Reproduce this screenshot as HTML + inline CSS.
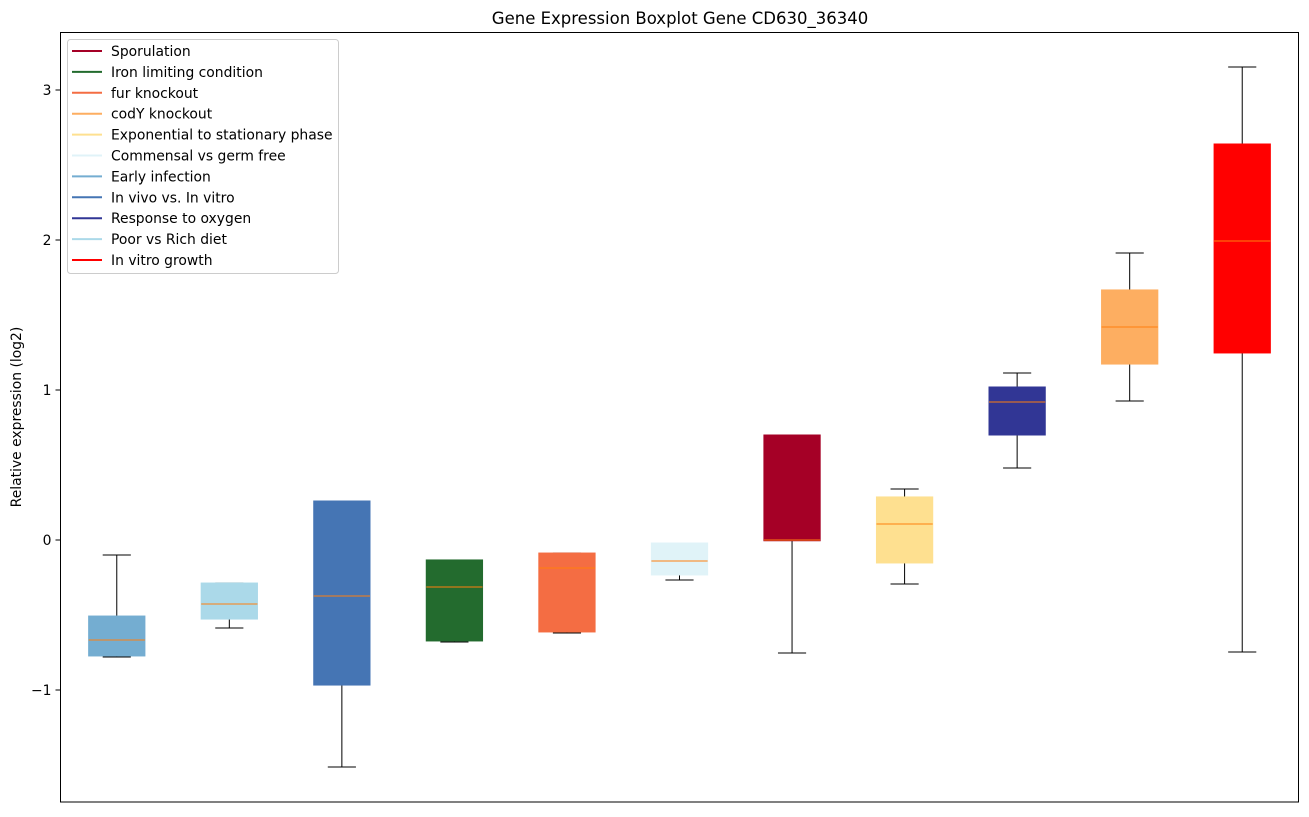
<!DOCTYPE html>
<html><head><meta charset="utf-8"><style>
body{margin:0;background:#fff}
svg text{font-family:"DejaVu Sans","Liberation Sans",sans-serif;fill:#000}
</style></head><body>
<svg id="chart" width="1309" height="812" xmlns="http://www.w3.org/2000/svg">
<text x="680" y="24" font-size="16.5" text-anchor="middle">Gene Expression Boxplot Gene CD630_36340</text>
<text transform="translate(21,417) rotate(-90)" font-size="13.9" text-anchor="middle">Relative expression (log2)</text>
<g id="ticks"></g>
<g id="boxes"></g>
<rect x="60.5" y="32.5" width="1238" height="769.5" fill="none" stroke="#000" stroke-width="1"/>
<g id="legend"></g>
</svg>
<script>
const categories=["Early infection","Poor vs Rich diet","In vivo vs. In vitro","Iron limiting condition","fur knockout","Commensal vs germ free","Sporulation","Exponential to stationary phase","Response to oxygen","codY knockout","In vitro growth"];
const colors=["#74add1","#abd9e9","#4575b4","#236b2e","#f46d43","#e0f3f8","#a50026","#fee090","#313695","#fdae61","#ff0000"];
const whiskerHigh=[-0.1,-0.287,0.26,-0.133,-0.087,-0.02,0.70,0.34,1.113,1.913,3.153];
const q3=[-0.507,-0.287,0.26,-0.133,-0.087,-0.02,0.70,0.287,1.02,1.667,2.64];
const medians=[-0.667,-0.427,-0.373,-0.313,-0.187,-0.14,0.0,0.107,0.92,1.42,1.993];
const q1=[-0.773,-0.527,-0.967,-0.673,-0.613,-0.233,-0.005,-0.153,0.70,1.173,1.247];
const whiskerLow=[-0.78,-0.587,-1.513,-0.68,-0.62,-0.267,-0.753,-0.293,0.48,0.927,-0.747];
const yTicks=[-1,0,1,2,3];
const yTickLabels=["\u22121","0","1","2","3"];
const legendLabels=["Sporulation","Iron limiting condition","fur knockout","codY knockout","Exponential to stationary phase","Commensal vs germ free","Early infection","In vivo vs. In vitro","Response to oxygen","Poor vs Rich diet","In vitro growth"];
const legendColors=["#a50026","#236b2e","#f46d43","#fdae61","#fee090","#e0f3f8","#74add1","#4575b4","#313695","#abd9e9","#ff0000"];

const NS="http://www.w3.org/2000/svg";
const X0=60.5,W=1238;
function x(i){return X0+(i+0.5)*W/categories.length;}
function y(v){return 540-150*v;}
function mk(tag,attrs,parent){const e=document.createElementNS(NS,tag);for(const k in attrs)e.setAttribute(k,attrs[k]);parent.appendChild(e);return e;}

const tg=document.getElementById('ticks');
yTicks.forEach((t,i)=>{
  const l=mk('line',{x1:X0-5,x2:X0,y1:y(t),y2:y(t),stroke:'#000'},tg);
  
  
  const tx=mk('text',{x:X0-9,y:y(t)+5,'font-size':'13.9','text-anchor':'end'},tg);
  
  
  tx.textContent=yTickLabels[i];
});

const bg=document.getElementById('boxes');
const bw=W/categories.length*0.5, cw=bw/2;
categories.forEach((c,i)=>{
  const g=mk('g',{},bg);
  
  
  const cx=x(i);
  mk('line',{x1:cx,x2:cx,y1:y(whiskerHigh[i]),y2:y(q3[i]),stroke:'#000'},g);
  mk('line',{x1:cx,x2:cx,y1:y(q1[i]),y2:y(whiskerLow[i]),stroke:'#000'},g);
  mk('line',{x1:cx-cw/2,x2:cx+cw/2,y1:y(whiskerHigh[i]),y2:y(whiskerHigh[i]),stroke:'#000'},g);
  mk('line',{x1:cx-cw/2,x2:cx+cw/2,y1:y(whiskerLow[i]),y2:y(whiskerLow[i]),stroke:'#000'},g);
  mk('rect',{x:cx-bw/2,y:y(q3[i]),width:bw,height:Math.max(1,y(q1[i])-y(q3[i])),fill:colors[i],stroke:colors[i]},g);
  mk('line',{x1:cx-bw/2,x2:cx+bw/2,y1:y(medians[i]),y2:y(medians[i]),stroke:'#ff7f0e'},g);
});

const lg=document.getElementById('legend');
const lr=mk('rect',{x:67.5,y:39.5,width:271,height:234,rx:3,fill:'#fff','fill-opacity':0.8,stroke:'#ccc'},lg);


legendLabels.forEach((l,i)=>{
  const yy=51+i*20.9;
  const g=mk('g',{},lg);
  
  
  mk('line',{x1:72,x2:102,y1:yy,y2:yy,stroke:legendColors[i],'stroke-width':2},g);
  const t=mk('text',{x:111,y:yy+5,'font-size':'13.9'},g);
  t.textContent=l;
});
</script>
</body></html>
